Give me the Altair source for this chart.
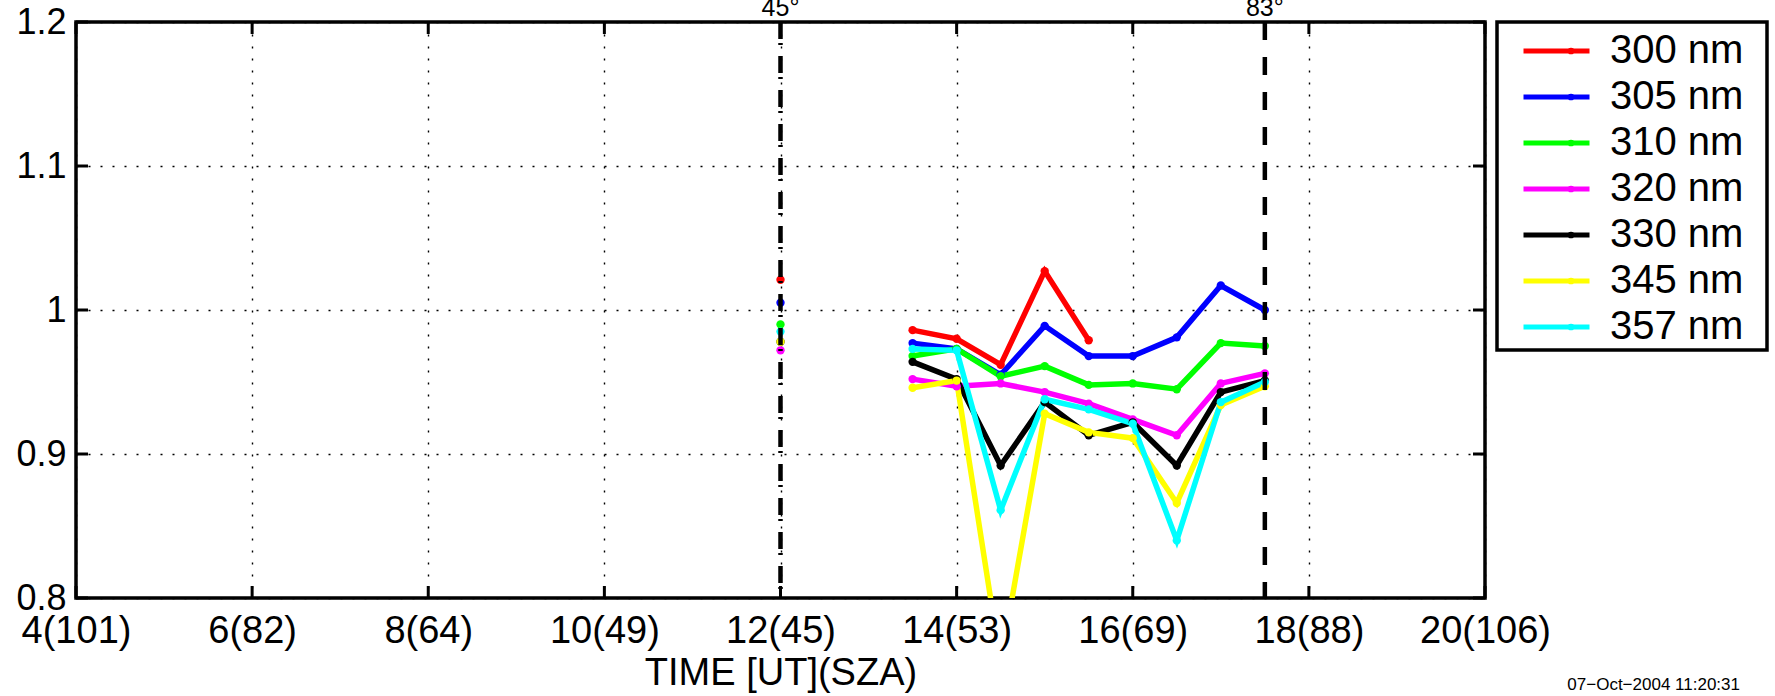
import json
import altair as alt
import pandas as pd

# ---- data -------------------------------------------------------------
WAVELENGTHS = ["300 nm", "305 nm", "310 nm", "320 nm", "330 nm", "345 nm", "357 nm"]
COLORS = ["#ff0000", "#0000ff", "#00ff00", "#ff00ff", "#000000", "#ffff00", "#00ffff"]

# single reading at local noon
NOON_HOUR = 12.0
NOON_RATIOS = [1.021, 1.005, 0.990, 0.972, 0.978, 0.978, 0.985]

# afternoon series (half-hour steps)
AFTERNOON_HOURS = [13.5, 14.0, 14.5, 15.0, 15.5, 16.0, 16.5, 17.0, 17.5]
RATIO_300 = [0.986, 0.980, 0.962, 1.027, 0.979]
RATIO_305 = [0.977, 0.973, 0.955, 0.989, 0.968, 0.968, 0.981, 1.017, 1.000]
RATIO_310 = [0.968, 0.973, 0.954, 0.961, 0.948, 0.949, 0.945, 0.977, 0.975]
RATIO_320 = [0.952, 0.947, 0.949, 0.943, 0.935, 0.924, 0.913, 0.949, 0.956]
RATIO_330 = [0.964, 0.952, 0.892, 0.936, 0.913, 0.922, 0.892, 0.943, 0.951]
RATIO_345 = [0.946, 0.951, 0.755, 0.928, 0.915, 0.911, 0.866, 0.934, 0.947]
RATIO_357 = [0.973, 0.972, 0.861, 0.938, 0.931, 0.921, 0.840, 0.936, 0.950]
SERIES = [RATIO_300, RATIO_305, RATIO_310, RATIO_320, RATIO_330, RATIO_345, RATIO_357]

# axis ticks
HOUR_TICKS = [4, 6, 8, 10, 12, 14, 16, 18, 20]
SZA_AT_TICKS = [101, 82, 64, 49, 45, 53, 69, 88, 106]
RATIO_TICKS = [0.8, 0.9, 1.0, 1.1, 1.2]

# solar zenith angle markers
MARKER_HOURS = [12.0, 17.5]
MARKER_LABELS = ["45\u00b0", "83\u00b0"]

STAMP = "07\u2212Oct\u22122004 11:20:31"

# ---- layout -----------------------------------------------------------
W, H = 1409, 576
FONT = "Liberation Sans"
TICK_LEN = 12
LINE_W = 5.5

rows = []
for name, noon, vals in zip(WAVELENGTHS, NOON_RATIOS, SERIES):
    rows.append({"wavelength": name, "segment": "noon", "hour": NOON_HOUR, "ratio": noon})
    for h, v in zip(AFTERNOON_HOURS, vals):
        rows.append({"wavelength": name, "segment": "pm", "hour": h, "ratio": v})
df = pd.DataFrame(rows)

tick_labels = [f"{h}({s})" for h, s in zip(HOUR_TICKS, SZA_AT_TICKS)]
label_expr = f"{json.dumps(tick_labels)}[round((datum.value - {HOUR_TICKS[0]}) / 2)]"

x_scale = alt.Scale(domain=[HOUR_TICKS[0], HOUR_TICKS[-1]], nice=False, zero=False)
y_scale = alt.Scale(domain=[RATIO_TICKS[0], RATIO_TICKS[-1]], nice=False, zero=False)

x_axis = alt.Axis(
    values=HOUR_TICKS, labelExpr=label_expr, title="TIME [UT](SZA)",
    grid=True, gridColor="#000000", gridDash=[2, 10], gridWidth=1.4,
    ticks=False, tickSize=0, domain=False,
    labelFontSize=38, labelPadding=14, labelFlush=False, labelOverlap=False,
    labelColor="#000000", titleFontSize=38, titleFontWeight="normal",
    titleColor="#000000", titlePadding=4,
)
y_axis = alt.Axis(
    values=RATIO_TICKS, format="~g", title=None,
    grid=True, gridColor="#000000", gridDash=[2, 10], gridWidth=1.4,
    ticks=False, tickSize=0, domain=False,
    labelFontSize=36, labelPadding=10, labelOverlap=False, labelFlush=False,
    labelColor="#000000",
)

x_enc = alt.X("hour:Q", scale=x_scale, axis=x_axis)
y_enc = alt.Y("ratio:Q", scale=y_scale, axis=y_axis)

# line key and dot key are two overlaid legends; the dot key's domain carries
# a trailing space so the two are kept apart
DOT_KEYS = [w + " " for w in WAVELENGTHS]
line_scale = alt.Scale(domain=WAVELENGTHS, range=COLORS)
dot_scale = alt.Scale(domain=DOT_KEYS, range=COLORS)

legend_common = dict(
    title=None, orient="none", legendX=1421, legendY=3, padding=6,
    clipHeight=40, rowPadding=6, labelOffset=18, labelFont=FONT, labelFontSize=40,
)
line_legend = alt.Legend(
    symbolType="stroke", symbolSize=66 * 66, symbolStrokeWidth=5, symbolOffset=18,
    labelColor="#000000", **legend_common,
)
dot_legend = alt.Legend(
    symbolType="circle", symbolSize=45, symbolStrokeWidth=0, symbolOffset=48,
    labelOpacity=0, **legend_common,
)

# ---- layers -----------------------------------------------------------
hour_ticks = pd.DataFrame({"hour": HOUR_TICKS})
ratio_ticks = pd.DataFrame({"ratio": RATIO_TICKS})

tick_style = dict(color="#000000", strokeWidth=3)
bottom_ticks = alt.Chart(hour_ticks).mark_rule(**tick_style).encode(
    x=x_enc, y=alt.value(H), y2=alt.value(H - TICK_LEN))
top_ticks = alt.Chart(hour_ticks).mark_rule(**tick_style).encode(
    x=x_enc, y=alt.value(0), y2=alt.value(TICK_LEN))
left_ticks = alt.Chart(ratio_ticks).mark_rule(**tick_style).encode(
    y=y_enc, x=alt.value(0), x2=alt.value(TICK_LEN))
right_ticks = alt.Chart(ratio_ticks).mark_rule(**tick_style).encode(
    y=y_enc, x=alt.value(W), x2=alt.value(W - TICK_LEN))

lines = alt.Chart(df).mark_line(strokeWidth=LINE_W, clip=True).encode(
    x=x_enc, y=y_enc,
    color=alt.Color("wavelength:N", scale=line_scale, legend=line_legend),
    detail="segment:N",
)
dots = alt.Chart(df).transform_calculate(wl_dot="datum.wavelength + ' '").mark_circle(
    size=70, opacity=1, clip=True).encode(
    x=x_enc, y=y_enc,
    fill=alt.Fill("wl_dot:N", scale=dot_scale, legend=dot_legend),
)

markers = pd.DataFrame({"hour": MARKER_HOURS, "label": MARKER_LABELS})
noon_rule = alt.Chart(markers.iloc[[0]]).mark_rule(
    color="#000000", strokeWidth=4.5, strokeDash=[17, 4, 2, 11]).encode(x=x_enc)
dusk_rule = alt.Chart(markers.iloc[[1]]).mark_rule(
    color="#000000", strokeWidth=4.5, strokeDash=[18, 17]).encode(x=x_enc)
marker_text = alt.Chart(markers).mark_text(
    font=FONT, fontSize=25, baseline="alphabetic", align="center", color="#000000").encode(
    x=x_enc, y=alt.value(-6), text="label:N")

stamp = alt.Chart(pd.DataFrame({"txt": [STAMP]})).mark_text(
    font=FONT, fontSize=17, align="right", baseline="alphabetic", color="#000000").encode(
    x=alt.value(1664), y=alt.value(668), text="txt:N")

legend_box = alt.Chart(pd.DataFrame({"k": [0]})).mark_rect(
    filled=False, stroke="#000000", strokeWidth=3.5).encode(
    x=alt.value(1421), x2=alt.value(1691), y=alt.value(0), y2=alt.value(328))

chart = alt.layer(
    bottom_ticks, top_ticks, left_ticks, right_ticks,
    lines, dots, noon_rule, dusk_rule, marker_text, stamp, legend_box,
).properties(
    width=W, height=H,
    autosize=alt.AutoSizeParams(type="none"),
    padding={"left": 76, "top": 22, "right": 290, "bottom": 98},
    background="#ffffff",
).configure(
    font=FONT,
).configure_view(
    stroke="#000000", strokeWidth=3.5,
)

chart.save("out.html", embed_options={"renderer": "svg", "actions": False})
